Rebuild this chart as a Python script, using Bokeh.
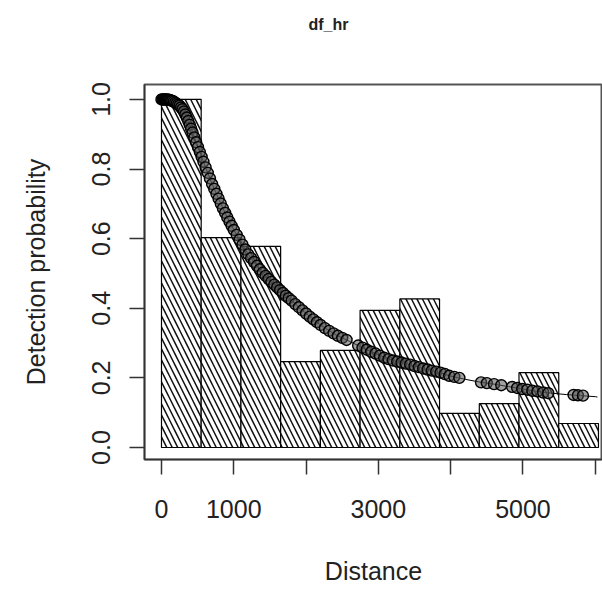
from bokeh.plotting import figure
from bokeh.models import Range1d, FixedTicker, Title
from bokeh.embed import file_html
from bokeh.resources import INLINE

# ---------------- data ----------------
bin_edges = [0, 549, 1099, 1648, 2198, 2747, 3297, 3846, 4396, 4945, 5495, 6044]
bin_heights = [1.0, 0.603, 0.578, 0.247, 0.279, 0.394, 0.427, 0.098, 0.126, 0.215, 0.069]

curve_x = [0, 100, 200, 250, 300, 350, 400, 450, 500, 600, 700, 800, 900, 1000,
           1100, 1200, 1300, 1400, 1500, 1600, 1700, 1800, 1900, 2000, 2200, 2400,
           2600, 2800, 3000, 3200, 3400, 3600, 3800, 4000, 4200, 4400, 4600, 4800,
           5000, 5200, 5400, 5600, 5800, 6000, 6030]
curve_y = [1.0, 0.999, 0.99, 0.982, 0.968, 0.948, 0.922, 0.894, 0.866, 0.81, 0.757, 0.71, 0.665, 0.625,
           0.59, 0.555, 0.527, 0.502, 0.48, 0.46, 0.44, 0.422, 0.403, 0.385, 0.352, 0.325,
           0.305, 0.285, 0.266, 0.25, 0.24, 0.228, 0.218, 0.205, 0.196, 0.188, 0.182, 0.175,
           0.168, 0.161, 0.156, 0.152, 0.149, 0.146, 0.145]

obs_dist = [0, 15, 30, 45, 60, 75, 90, 105, 120, 135,
            150, 170, 190, 210, 230, 250, 270, 290, 310, 330,
            350, 370, 390, 410, 430, 455, 480, 505, 530, 555,
            580, 610, 640, 670, 700, 730, 760, 790, 820, 850,
            880, 910, 940, 970, 1000, 1040, 1080, 1120, 1160, 1200,
            1240, 1280, 1320, 1360, 1400, 1440, 1480, 1520, 1560, 1600,
            1640, 1680, 1720, 1760, 1800, 1850, 1900, 1950, 2000, 2050,
            2100, 2150, 2200, 2260, 2320, 2380, 2440, 2500, 2560, 2720,
            2780, 2840, 2900, 2960, 3020, 3080, 3140, 3200, 3260, 3320,
            3380, 3440, 3500, 3560, 3620, 3680, 3740, 3800, 3860, 3920,
            3980, 4050, 4120, 4420, 4500, 4600, 4700, 4850, 4920, 4990,
            5060, 5130, 5200, 5280, 5350, 5700, 5760, 5830]
obs_prob = [1.0, 1.0, 1.0, 1.0, 1.0, 1.0, 0.999, 0.999, 0.998, 0.997,
            0.996, 0.994, 0.991, 0.988, 0.985, 0.982, 0.977, 0.972, 0.965, 0.957,
            0.948, 0.938, 0.927, 0.916, 0.905, 0.891, 0.877, 0.863, 0.849, 0.835,
            0.821, 0.805, 0.789, 0.773, 0.757, 0.743, 0.729, 0.715, 0.701, 0.687,
            0.674, 0.661, 0.649, 0.637, 0.625, 0.611, 0.597, 0.583, 0.569, 0.555,
            0.544, 0.533, 0.522, 0.512, 0.502, 0.493, 0.484, 0.476, 0.468, 0.46,
            0.452, 0.444, 0.436, 0.429, 0.422, 0.412, 0.403, 0.394, 0.385, 0.376,
            0.368, 0.36, 0.352, 0.343, 0.335, 0.328, 0.321, 0.315, 0.309, 0.293,
            0.287, 0.281, 0.275, 0.27, 0.264, 0.258, 0.254, 0.25, 0.247, 0.244,
            0.241, 0.238, 0.234, 0.231, 0.227, 0.224, 0.221, 0.218, 0.215, 0.211,
            0.206, 0.203, 0.2, 0.187, 0.185, 0.182, 0.179, 0.174, 0.171, 0.168,
            0.166, 0.163, 0.161, 0.158, 0.156, 0.151, 0.15, 0.149]

x_ticks = [0, 1000, 2000, 3000, 4000, 5000, 6000]
x_tick_labels = ["0", "1000", "", "3000", "", "5000", ""]
y_ticks = [0.0, 0.2, 0.4, 0.6, 0.8, 1.0]
y_tick_labels = ["0.0", "0.2", "0.4", "0.6", "0.8", "1.0"]

title_text = "df_hr"
x_label = "Distance"
y_label = "Detection probability"

# ---------------- figure ----------------
FONT = "Liberation Sans"
TXT = "#222222"

p = figure(width=602, height=588, output_backend="svg", toolbar_location=None,
           x_range=Range1d(-235, 6100), y_range=Range1d(-0.0345, 1.043),
           min_border_left=144, min_border_right=0, min_border_top=84,
           min_border_bottom=129, title=None)
p.background_fill_color = "white"
p.border_fill_color = "white"
p.outline_line_color = "#555555"
p.outline_line_width = 2
p.xgrid.visible = False
p.ygrid.visible = False

p.quad(left=bin_edges[:-1], right=bin_edges[1:], bottom=0, top=bin_heights,
       fill_color="white", line_color="black", line_width=1.2,
       hatch_pattern="left_diagonal_line", hatch_color="#111111",
       hatch_scale=11, hatch_weight=1.5)

p.line(curve_x, curve_y, line_color="black", line_width=1)
p.scatter(obs_dist, obs_prob, marker="circle", size=11,
          fill_color="#555555", fill_alpha=0.55,
          line_color="#000000", line_width=1.4)

for ax in (p.xaxis[0], p.yaxis[0]):
    ax.axis_line_color = "#333333"
    ax.axis_line_width = 1.5
    ax.major_tick_line_color = "#333333"
    ax.major_tick_line_width = 1.5
    ax.major_tick_out = 15
    ax.major_tick_in = 0
    ax.minor_tick_line_color = None
    ax.major_label_text_font = FONT
    ax.major_label_text_font_size = "25px"
    ax.major_label_text_color = TXT
    ax.axis_label_text_font = FONT
    ax.axis_label_text_font_size = "25px"
    ax.axis_label_text_font_style = "normal"
    ax.axis_label_text_color = TXT

p.xaxis.ticker = FixedTicker(ticks=x_ticks)
p.xaxis.major_label_overrides = {t: l for t, l in zip(x_ticks, x_tick_labels)}
p.xaxis.major_label_standoff = 25
p.xaxis.axis_label = x_label
p.xaxis.axis_label_standoff = 36

p.yaxis.ticker = FixedTicker(ticks=y_ticks)
p.yaxis.major_label_overrides = {t: l for t, l in zip(y_ticks, y_tick_labels)}
p.yaxis.major_label_orientation = "parallel"
p.yaxis.major_label_standoff = 19
p.yaxis.axis_label = y_label
p.yaxis.axis_label_standoff = 40

# spacer (closest to the frame) then the real title above it
p.add_layout(Title(text=" ", text_font=FONT, text_font_size="16px", standoff=33), "above")
p.add_layout(Title(text=title_text, text_font=FONT, text_font_size="16px",
                   text_font_style="bold", text_color=TXT, align="left", offset=164,
                   standoff=0, vertical_align="bottom"), "above")

open("out.html", "w").write(file_html(p, INLINE))
